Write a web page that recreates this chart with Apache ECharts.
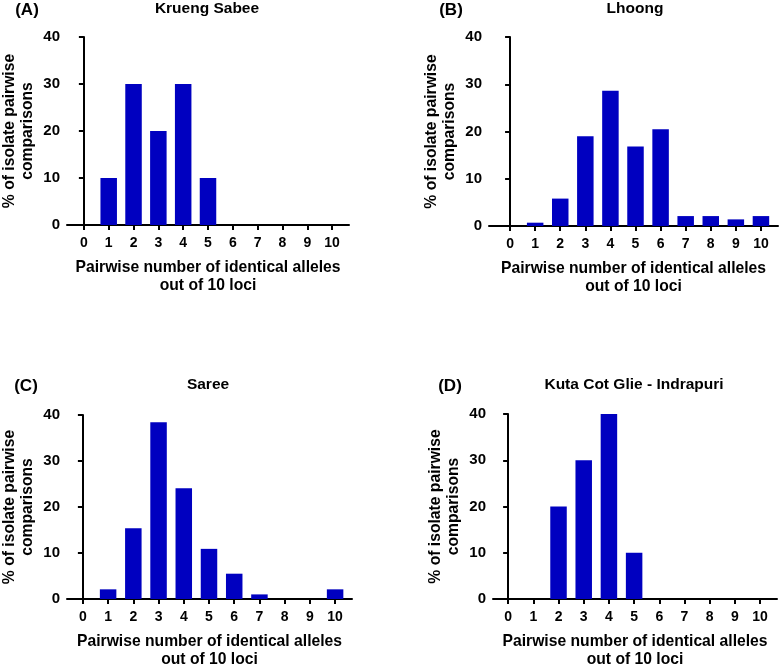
<!DOCTYPE html>
<html>
<head>
<meta charset="utf-8">
<script src="https://cdn.jsdelivr.net/npm/echarts@6/dist/echarts.min.js"></script>
<style>
  html, body { margin: 0; padding: 0; background: #fff; }
  #chart { width: 779px; height: 670px; }
</style>
</head>
<body>
<div id="chart"></div>
<script>
// number of identical alleles (x categories)
var categories = [0, 1, 2, 3, 4, 5, 6, 7, 8, 9, 10];
var yTicks = [0, 10, 20, 30, 40];

// % of isolate pairwise comparisons, one array per site
var kruengSabee = [0, 10, 30, 20, 30, 10, 0, 0, 0, 0, 0];
var lhoong = [0, 0.7, 5.8, 19.0, 28.6, 16.8, 20.5, 2.1, 2.1, 1.4, 2.1];
var saree = [0, 2.1, 15.4, 38.4, 24.1, 10.9, 5.5, 1.0, 0, 0, 2.1];
var kutaCotGlie = [0, 0, 20, 30, 40, 10, 0, 0, 0, 0, 0];

var panelTitles = ['Krueng Sabee', 'Lhoong', 'Saree', 'Kuta Cot Glie - Indrapuri'];
var panelLetters = ['(A)', '(B)', '(C)', '(D)'];
var panelData = [kruengSabee, lhoong, saree, kutaCotGlie];

var FONT = '"Liberation Sans", Arial, sans-serif';
var BAR_COLOR = '#0000C0';

// layout of each panel: grid box + x range
var panels = [
  { left: 65, top: 37, width: 284, height: 188, xmin: -0.68, xmax: 10.68, tx: 207, ty: 9, lx: 27, ly: 10 },
  { left: 489, top: 37, width: 289, height: 189, xmin: -0.84, xmax: 10.68, tx: 635, ty: 9, lx: 451, ly: 10 },
  { left: 66, top: 415, width: 286, height: 189, xmin: -0.63, xmax: 10.67, tx: 208, ty: 385, lx: 26, ly: 386 },
  { left: 493, top: 414, width: 284, height: 189, xmin: -0.6, xmax: 10.67, tx: 634, ty: 385, lx: 450, ly: 386 }
];

var chart = echarts.init(document.getElementById('chart'), null, { renderer: 'canvas' });

var grids = [], xAxes = [], yAxes = [], series = [], graphics = [];

panels.forEach(function (p, i) {
  grids.push({ left: p.left, top: p.top, width: p.width, height: p.height });

  xAxes.push({
    type: 'value',
    gridIndex: i,
    min: p.xmin,
    max: p.xmax,
    splitLine: { show: false },
    axisLine: { show: true, onZero: false, lineStyle: { color: '#000', width: 2 } },
    axisTick: { show: true, customValues: categories, length: 5, lineStyle: { color: '#000', width: 2 } },
    axisLabel: {
      customValues: categories,
      margin: 11,
      color: '#000',
      fontFamily: FONT,
      fontWeight: 'bold',
      fontSize: 14
    },
    name: 'Pairwise number of identical alleles\nout of 10 loci',
    nameLocation: 'middle',
    nameGap: 34,
    nameTextStyle: { color: '#000', fontFamily: FONT, fontWeight: 'bold', fontSize: 15.7, lineHeight: 18 }
  });

  yAxes.push({
    type: 'value',
    gridIndex: i,
    min: 0,
    max: 40,
    interval: 10,
    splitLine: { show: false },
    axisLine: { show: true, lineStyle: { color: '#000', width: 2 } },
    axisTick: { show: true, length: 5, lineStyle: { color: '#000', width: 2 } },
    axisLabel: {
      margin: 7,
      color: '#000',
      fontFamily: FONT,
      fontWeight: 'bold',
      fontSize: 15
    },
    name: '% of isolate pairwise\ncomparisons',
    nameLocation: 'middle',
    nameGap: 30,
    nameTextStyle: { color: '#000', fontFamily: FONT, fontWeight: 'bold', fontSize: 15.7, lineHeight: 18 }
  });

  series.push({
    type: 'bar',
    xAxisIndex: i,
    yAxisIndex: i,
    barWidth: 16.5,
    itemStyle: { color: BAR_COLOR },
    data: categories.map(function (c, k) { return [c, panelData[i][k]]; })
  });

  graphics.push({
    type: 'text', x: p.tx, y: p.ty,
    style: { text: panelTitles[i], align: 'center', verticalAlign: 'middle', fill: '#000',
      font: 'bold 15.5px ' + FONT }
  });
  graphics.push({
    type: 'text', x: p.lx, y: p.ly,
    style: { text: panelLetters[i], align: 'center', verticalAlign: 'middle', fill: '#000',
      font: 'bold 17px ' + FONT }
  });
});

chart.setOption({
  animation: false,
  grid: grids,
  xAxis: xAxes,
  yAxis: yAxes,
  series: series,
  graphic: graphics
});
</script>
</body>
</html>
